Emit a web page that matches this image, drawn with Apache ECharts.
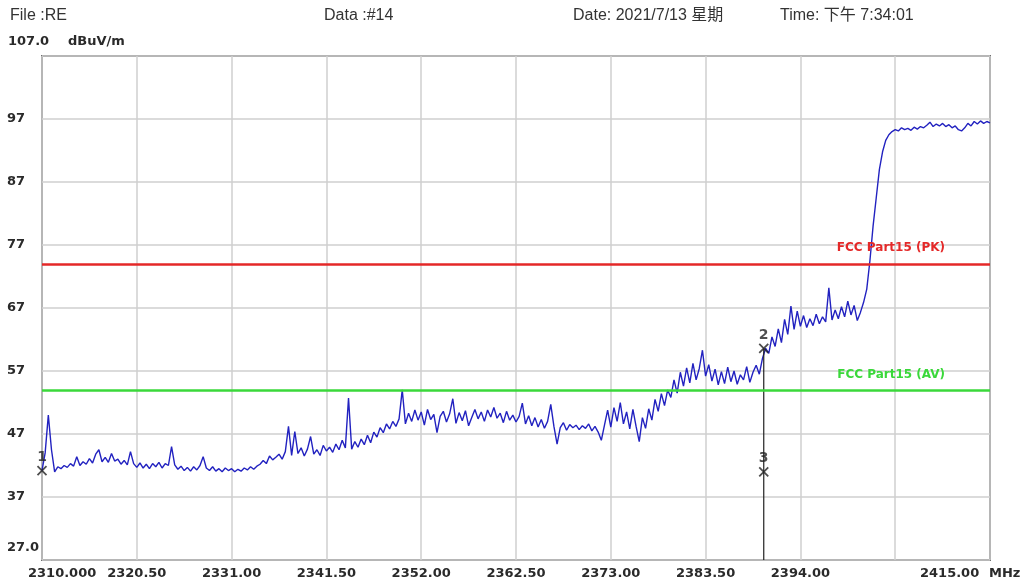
<!DOCTYPE html>
<html>
<head>
<meta charset="utf-8">
<script src="https://cdn.jsdelivr.net/npm/echarts@6/dist/echarts.min.js"></script>
<style>
  html, body { margin: 0; padding: 0; background: #fff; }
  #main { width: 1025px; height: 586px; }
</style>
</head>
<body>
<div id="main"></div>
<script>
// sweep: 2310 - 2415 MHz, one reading every 0.35 MHz
var startFreq = 2310;
var freqStep = 0.35;
var levels = [
  41.2, 44.0, 50.0, 44.5, 41.0, 41.8, 41.5, 42.0, 41.7, 42.3,
  41.9, 43.4, 42.0, 42.6, 42.2, 43.1, 42.4, 43.8, 44.5, 42.6,
  43.3, 42.5, 43.9, 42.7, 43.0, 42.2, 42.8, 42.1, 44.2, 42.3,
  41.7, 42.4, 41.6, 42.2, 41.5, 42.3, 41.8, 42.5, 41.6, 42.3,
  42.0, 45.0, 42.1, 41.4, 41.9, 41.2, 41.7, 41.1, 41.8, 41.3,
  42.0, 43.4, 41.6, 41.2, 41.8, 41.1, 41.5, 41.0, 41.6, 41.2,
  41.5, 41.0, 41.4, 41.1, 41.6, 41.3, 41.8, 41.4, 41.9, 42.2,
  42.8, 42.3, 43.5, 42.9, 43.3, 43.8, 43.0, 44.2, 48.2, 43.6,
  47.4, 43.9, 44.8, 43.5, 44.6, 46.6, 43.8, 44.5, 43.6, 45.2,
  44.3, 44.9, 44.1, 45.4, 44.5, 46.0, 44.8, 52.7, 44.6, 45.8,
  44.9, 46.2, 45.3, 46.8, 45.6, 47.3, 46.5, 48.0, 47.2, 48.6,
  47.8, 49.0, 48.2, 49.4, 54.0, 48.6, 50.3, 49.0, 50.8, 49.2,
  50.5, 48.4, 50.9, 49.3, 50.1, 47.2, 49.8, 50.6, 48.9, 50.2,
  52.6, 48.7, 50.4, 49.1, 50.7, 48.3, 49.6, 50.9, 49.4, 50.5,
  49.0, 50.8, 49.7, 51.2, 49.5, 50.3, 48.8, 50.6, 49.2, 50.0,
  48.9, 49.8, 51.9, 48.6, 49.9, 48.3, 49.6, 48.1, 49.3, 47.9,
  49.0, 51.7, 48.2, 45.4, 48.0, 48.8, 47.6, 48.5, 48.0, 48.4,
  47.7, 48.3, 47.9, 48.6, 47.5, 48.2, 47.3, 46.0, 48.4, 50.8,
  48.1, 51.2, 49.0, 52.0, 48.6, 50.5, 47.8, 50.9, 48.2, 45.8,
  49.6, 47.9, 51.0, 49.2, 52.5, 50.6, 53.4, 51.5, 54.0, 52.8,
  55.6, 53.5, 56.8, 54.6, 57.5, 55.1, 58.2, 55.6, 57.4, 60.3,
  56.2, 58.0, 55.4, 57.3, 54.8, 56.9, 55.0, 57.6, 55.3, 57.0,
  54.9, 56.4, 55.6, 57.7, 55.2, 56.8, 57.9, 56.5, 59.0, 60.6,
  59.8, 62.4, 60.9, 63.7, 61.5, 65.2, 62.8, 67.3, 63.6, 66.5,
  64.1, 65.8, 63.9, 65.3, 64.2, 66.0, 64.5, 65.6, 64.8, 70.2,
  65.1, 66.7, 65.3, 67.2, 65.6, 68.1, 65.9, 67.4, 65.0, 66.3,
  67.9, 70.0, 74.5, 80.0, 84.5, 89.0, 91.8, 93.6, 94.5, 95.0,
  95.3, 95.1, 95.6, 95.3, 95.5, 95.2, 95.7, 95.4, 95.8, 95.6,
  96.0, 96.5, 95.8, 96.2, 95.9, 96.3, 95.8, 96.1, 95.6, 95.9,
  95.3, 95.1, 95.6, 96.3, 95.9, 96.6, 96.2, 96.7, 96.3, 96.6,
  96.4
];

var limitPK = 74;
var limitAV = 54;

var markerNames = ['1', '2', '3'];
var markerFreqs = [2310, 2389.94, 2389.94];
var markerLevels = [41.2, 60.6, 41.0];

var yMin = 27, yMax = 107, yStep = 10;
var xMin = 2310, xMax = 2415, xStep = 10.5;

var traceData = levels.map(function (v, i) {
  return [startFreq + i * freqStep, v];
});
var markerData = markerNames.map(function (n, i) {
  return { name: n, value: [markerFreqs[i], markerLevels[i]] };
});
// vertical line dropped from marker 2 to the bottom
var markerDrop = [[markerFreqs[1], markerLevels[1]], [markerFreqs[1], yMin]];

var boldFont = 'DejaVu Sans';
var headFont = '"Liberation Sans", "Noto Sans CJK SC", sans-serif';

var myChart = echarts.init(document.getElementById('main'));

var option = {
  animation: false,
  backgroundColor: '#fff',
  grid: { left: 42, right: 35, top: 56, bottom: 26, show: true, borderColor: '#6e6e6e', borderWidth: 2 },
  xAxis: {
    type: 'value', min: xMin, max: xMax, interval: xStep,
    axisLine: { show: false }, axisTick: { show: false },
    splitLine: { lineStyle: { color: '#cfcfcf', width: 1.5 } },
    axisLabel: {
      margin: 7, color: '#2a2a2a', fontFamily: boldFont, fontWeight: 'bold', fontSize: 13,
      formatter: function (v) {
        if (v <= xMin || v >= xMax - xStep) return '';
        return v.toFixed(2);
      }
    }
  },
  yAxis: {
    type: 'value', min: yMin, max: yMax, interval: yStep,
    axisLine: { show: false }, axisTick: { show: false },
    splitLine: { lineStyle: { color: '#cfcfcf', width: 1.5 } },
    axisLabel: {
      align: 'left', margin: 35, color: '#2a2a2a', fontFamily: boldFont, fontWeight: 'bold', fontSize: 13,
      formatter: function (v) {
        if (v <= yMin || v >= yMax) return '';
        return String(v);
      }
    }
  },
  graphic: [
    { type: 'text', left: 10, top: 8, style: { text: 'File :RE', font: '16px ' + headFont, fill: '#333' } },
    { type: 'text', left: 324, top: 8, style: { text: 'Data :#14', font: '16px ' + headFont, fill: '#333' } },
    { type: 'text', left: 573, top: 8, style: { text: 'Date: 2021/7/13 星期', font: '16px ' + headFont, fill: '#333' } },
    { type: 'text', left: 780, top: 8, style: { text: 'Time: 下午 7:34:01', font: '16px ' + headFont, fill: '#333' } },
    { type: 'text', left: 8, top: 35, style: { text: '107.0', font: 'bold 13px ' + boldFont, fill: '#2a2a2a' } },
    { type: 'text', left: 68, top: 35, style: { text: 'dBuV/m', font: 'bold 13px ' + boldFont, fill: '#2a2a2a' } },
    { type: 'text', left: 7, top: 541, style: { text: '27.0', font: 'bold 13px ' + boldFont, fill: '#2a2a2a' } },
    { type: 'text', left: 28, top: 567, style: { text: '2310.000', font: 'bold 13px ' + boldFont, fill: '#2a2a2a' } },
    { type: 'text', left: 920, top: 567, style: { text: '2415.00', font: 'bold 13px ' + boldFont, fill: '#2a2a2a' } },
    { type: 'text', left: 989, top: 567, style: { text: 'MHz', font: 'bold 13px ' + boldFont, fill: '#2a2a2a' } }
  ],
  series: [
    {
      name: 'trace',
      type: 'line',
      data: traceData,
      showSymbol: false,
      z: 3,
      lineStyle: { color: '#2222c0', width: 1.4 },
      markLine: {
        silent: true,
        symbol: 'none',
        data: [
          {
            yAxis: limitPK,
            lineStyle: { color: '#e42828', width: 2.5, type: 'solid' },
            label: { show: true, position: 'insideEndTop', distance: [45, 10], formatter: 'FCC Part15 (PK)',
              color: '#e42828', fontFamily: boldFont, fontWeight: 'bold', fontSize: 12 }
          },
          {
            yAxis: limitAV,
            lineStyle: { color: '#3ad83a', width: 2.5, type: 'solid' },
            label: { show: true, position: 'insideEndTop', distance: [45, 9], formatter: 'FCC Part15 (AV)',
              color: '#3ad83a', fontFamily: boldFont, fontWeight: 'bold', fontSize: 12 }
          }
        ]
      }
    },
    {
      name: 'drop',
      type: 'line',
      data: markerDrop,
      showSymbol: false,
      z: 4,
      lineStyle: { color: '#222', width: 1.2 }
    },
    {
      name: 'markers',
      type: 'scatter',
      data: markerData,
      z: 5,
      symbol: 'path://M0,0L10,10M10,0L0,10',
      symbolSize: 9,
      itemStyle: { color: 'rgba(0,0,0,0)', borderColor: '#222', borderWidth: 1.8 },
      label: {
        show: true, position: 'top', distance: 1, formatter: '{b}',
        color: '#222', fontFamily: boldFont, fontWeight: 'bold', fontSize: 14
      }
    }
  ]
};

myChart.setOption(option);
</script>
</body>
</html>
